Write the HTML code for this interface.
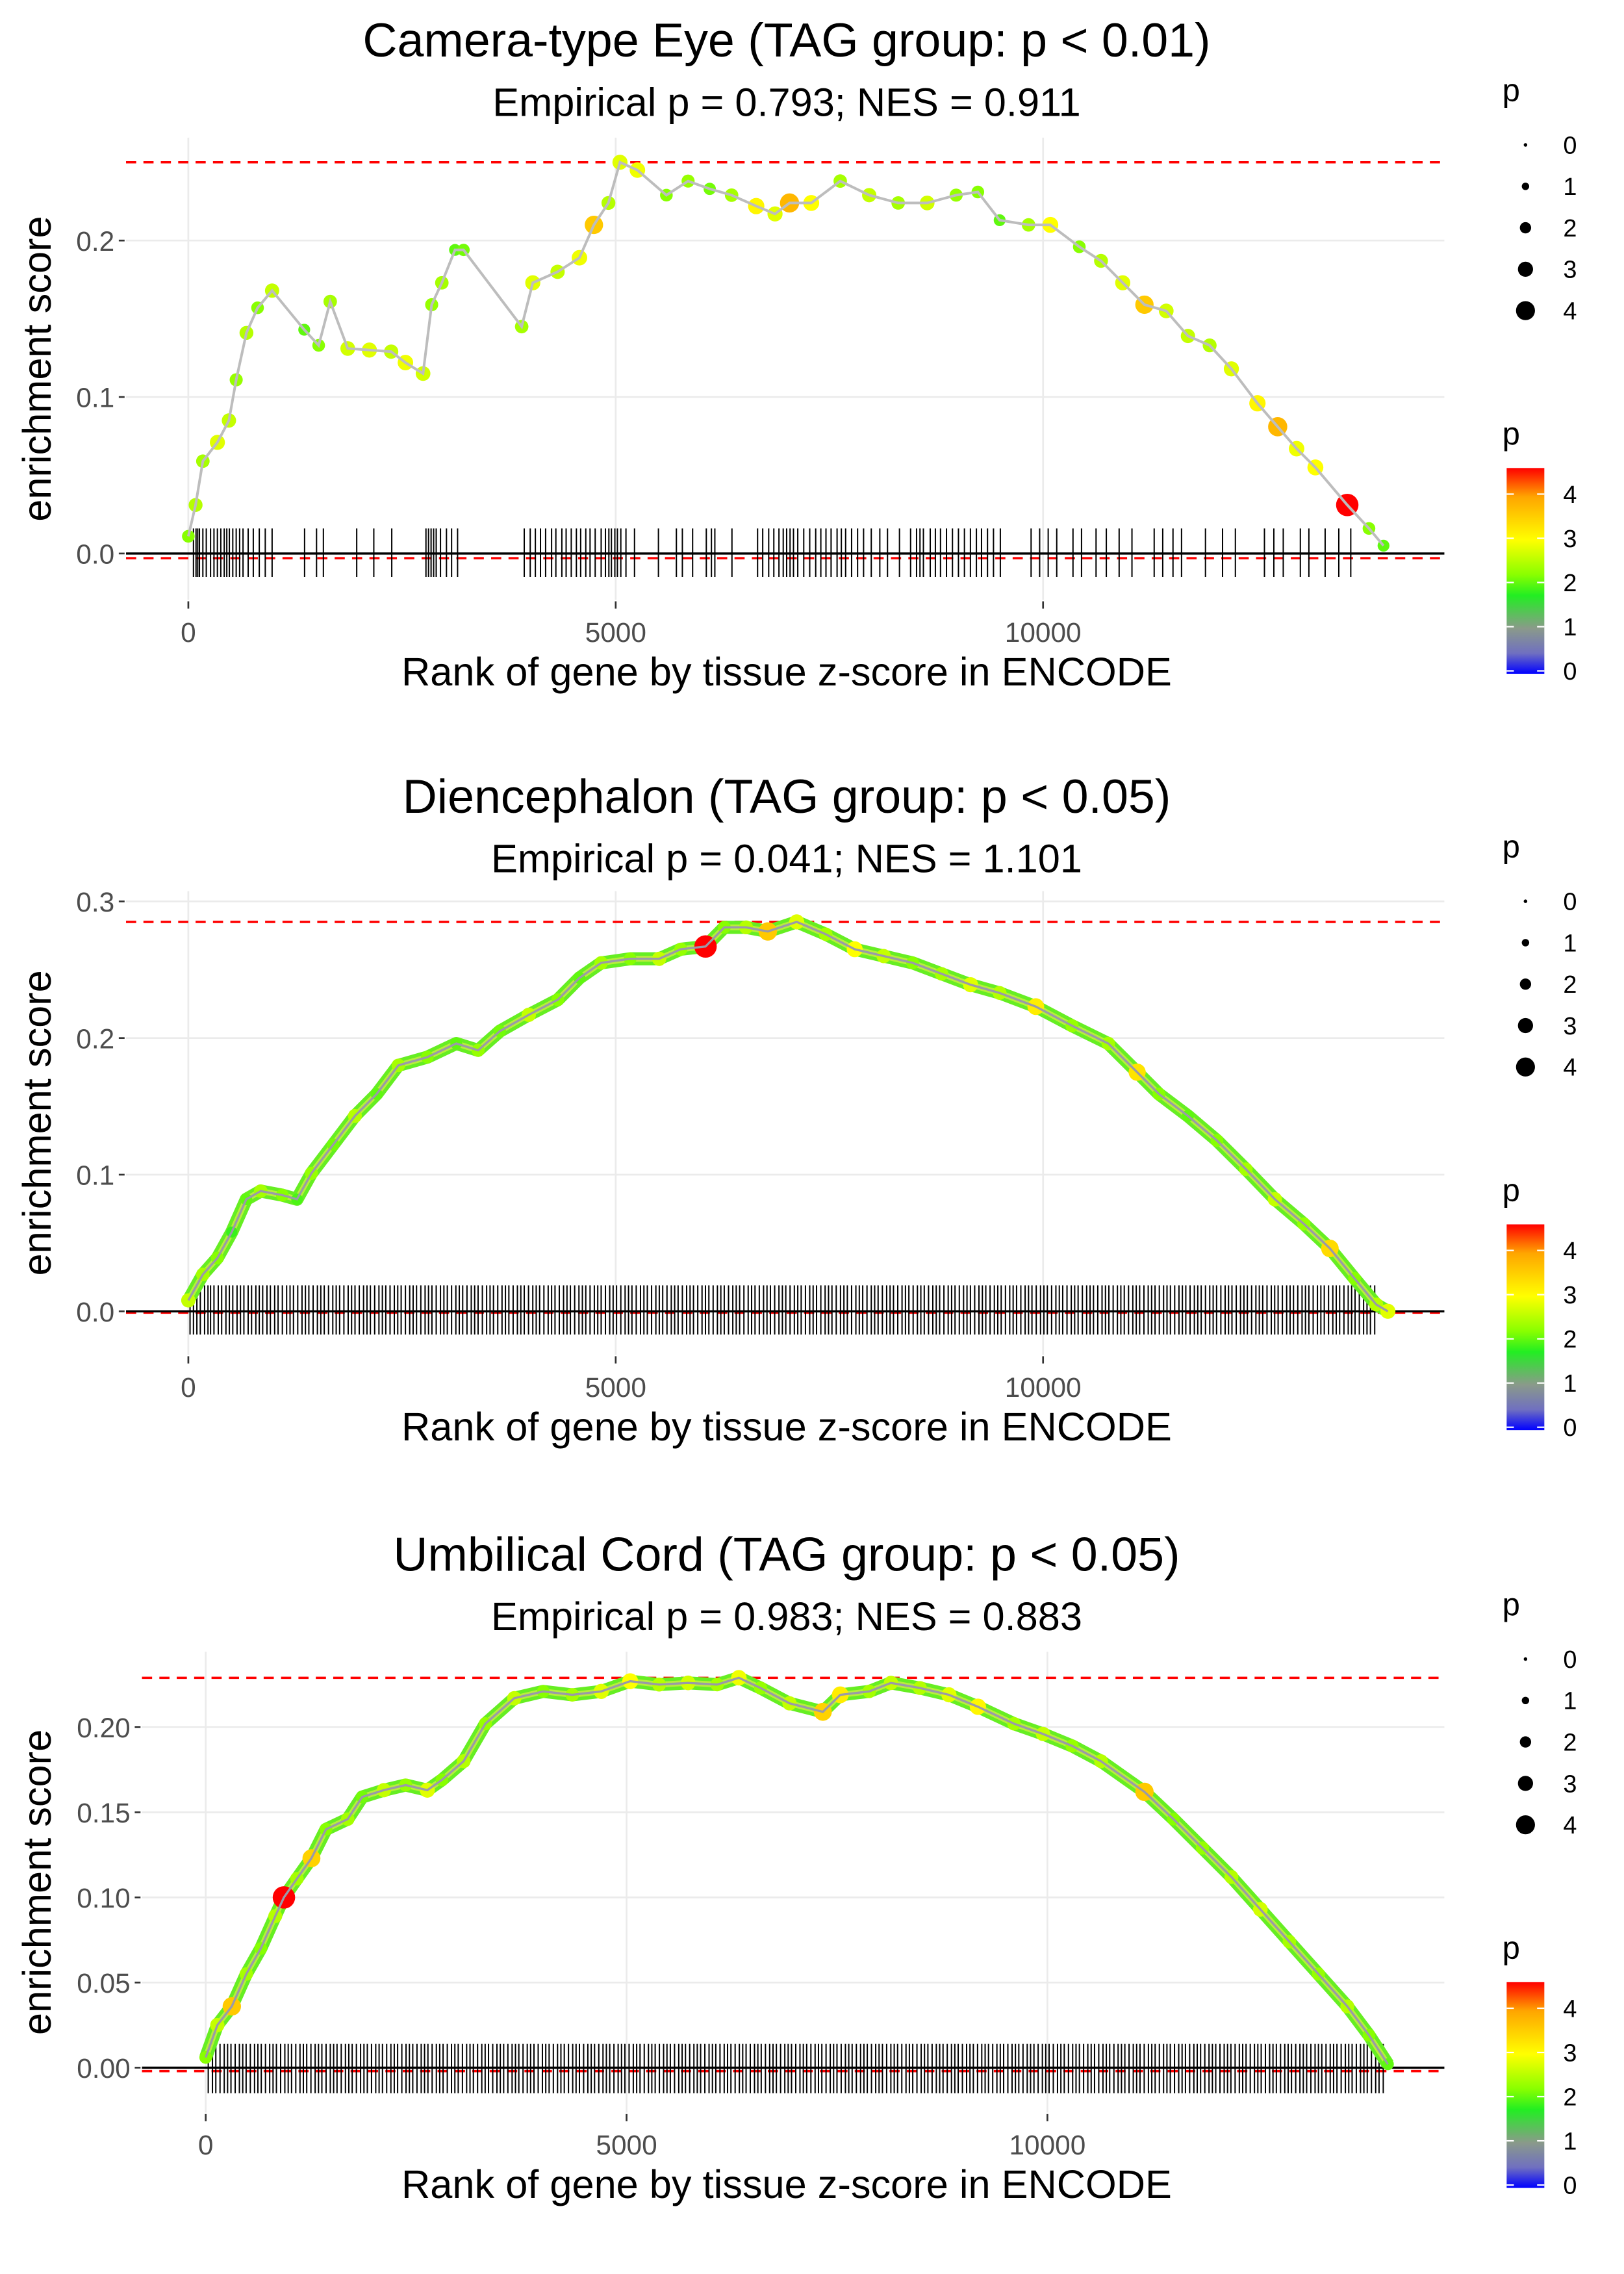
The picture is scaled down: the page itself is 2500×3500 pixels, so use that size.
<!DOCTYPE html>
<html><head><meta charset="utf-8"><style>
html,body{margin:0;padding:0;background:#fff;}
svg{display:block;font-family:"Liberation Sans",sans-serif;}
</style></head><body>
<svg id="chart" width="2500" height="3500" viewBox="0 0 1121 1569.4" preserveAspectRatio="none" xmlns="http://www.w3.org/2000/svg">
<defs>
<linearGradient id="pgrad" x1="0" y1="1" x2="0" y2="0">
<stop offset="0" stop-color="#0000ff"/><stop offset="0.1" stop-color="#7070c0"/><stop offset="0.22" stop-color="#8a9a8a"/><stop offset="0.38" stop-color="#22ee22"/><stop offset="0.48" stop-color="#88ff00"/><stop offset="0.65" stop-color="#ffff00"/><stop offset="0.86" stop-color="#ffa500"/><stop offset="1" stop-color="#ff0000"/>
</linearGradient>
</defs>
</svg>
<script>
// ---- Panel 1: Camera-type Eye ----
const p1Ranks=[0,85,170,340,475,560,680,810,980,1356,1525,1660,1865,2118,2373,2540,2746,2847,2966,3120,3220,3900,4030,4320,4576,4745,4915,5050,5254,5593,5847,6100,6356,6644,6864,7034,7288,7627,7966,8305,8644,8983,9237,9492,9830,10085,10424,10678,10932,11186,11441,11695,11949,12203,12508,12745,12966,13186,13559,13813,13983];
const p1ES=[0.011,0.031,0.059,0.071,0.085,0.111,0.141,0.157,0.168,0.143,0.133,0.161,0.131,0.130,0.129,0.122,0.115,0.159,0.173,0.194,0.194,0.145,0.173,0.180,0.189,0.210,0.224,0.250,0.245,0.229,0.238,0.233,0.229,0.222,0.217,0.224,0.224,0.238,0.229,0.224,0.224,0.229,0.231,0.213,0.210,0.210,0.196,0.187,0.173,0.159,0.155,0.139,0.133,0.118,0.096,0.081,0.067,0.055,0.031,0.016,0.005];
const p1P=[2.2,2.5,2.4,2.8,2.6,2.3,2.5,2.2,2.6,2.0,2.2,2.4,2.7,2.8,2.6,2.9,2.7,2.3,2.4,2.0,2.1,2.4,2.8,2.6,2.9,3.6,2.5,2.8,2.9,2.2,2.3,2.1,2.4,3.1,2.8,3.8,3.0,2.4,2.6,2.4,2.7,2.3,2.2,2.0,2.4,3.0,2.2,2.5,2.8,3.6,2.7,2.6,2.5,2.8,3.1,3.8,2.9,3.0,4.6,2.2,2.0];
const p1Rug=[60,90,110,130,170,210,260,300,340,380,420,450,480,520,560,600,640,700,760,830,900,980,1360,1500,1580,1970,2170,2380,2780,2810,2840,2870,2900,2950,3020,3080,3150,3930,4000,4060,4120,4180,4250,4300,4370,4420,4480,4540,4590,4650,4700,4760,4830,4880,4920,4950,4990,5020,5060,5120,5220,5500,5710,5780,5900,6060,6120,6160,6360,6660,6720,6790,6850,6910,6960,7000,7040,7080,7130,7200,7270,7340,7400,7460,7520,7590,7640,7690,7760,7830,7900,7990,8090,8180,8320,8450,8520,8560,8600,8680,8740,8800,8870,8940,9010,9080,9150,9220,9280,9350,9420,9500,9860,9960,10060,10160,10350,10450,10620,10740,10890,11040,11300,11400,11520,11620,11900,12100,12250,12590,12700,12810,13010,13110,13300,13460,13600];
const p1YTicks=[0,0.1,0.2];const p1YLabels=["0.0","0.1","0.2"];
// ---- Panel 2: Diencephalon ----
const p2Ranks=[0,170,340,508,678,847,1100,1271,1440,1695,1949,2203,2457,2796,3135,3390,3644,3983,4322,4576,4830,5169,5508,5762,6051,6271,6525,6780,7118,7457,7796,8135,8474,8813,9152,9491,9915,10339,10763,11101,11356,11695,12034,12373,12712,13051,13356,13644,13898,14034];
const p2ES=[0.008,0.027,0.039,0.058,0.082,0.088,0.085,0.082,0.101,0.122,0.143,0.159,0.180,0.186,0.196,0.191,0.205,0.217,0.228,0.244,0.255,0.258,0.258,0.265,0.267,0.281,0.281,0.278,0.285,0.276,0.265,0.260,0.255,0.247,0.239,0.233,0.223,0.209,0.196,0.175,0.159,0.143,0.125,0.104,0.082,0.064,0.046,0.024,0.005,0.000];
const p2P=[2.6,2.4,2.2,1.8,2.0,2.4,2.2,1.9,2.3,2.1,2.5,2.0,2.4,2.2,2.0,2.3,2.1,2.6,2.2,2.0,2.4,2.2,2.6,2.3,4.6,2.2,2.5,3.6,2.8,2.4,3.0,2.6,2.2,2.4,2.8,2.5,3.2,2.3,2.4,3.3,2.2,2.0,2.2,2.4,2.6,2.3,3.4,2.2,2.5,2.8];
const p2Rug=[20,60,100,140,190,230,260,300,350,390,440,480,520,570,610,650,700,740,790,830,870,920,960,1010,1050,1100,1150,1190,1230,1280,1330,1370,1410,1460,1510,1550,1590,1640,1690,1730,1770,1820,1870,1910,1950,2000,2050,2090,2130,2180,2230,2270,2310,2360,2410,2450,2490,2540,2590,2630,2670,2720,2770,2810,2850,2900,2950,2990,3030,3080,3130,3170,3210,3260,3310,3350,3390,3440,3490,3530,3570,3620,3670,3710,3750,3800,3850,3890,3930,3980,4030,4070,4110,4160,4210,4250,4290,4340,4390,4430,4470,4520,4570,4610,4650,4700,4750,4790,4830,4880,4930,4970,5010,5060,5110,5150,5190,5240,5290,5330,5370,5420,5470,5510,5550,5600,5650,5690,5730,5780,5830,5870,5910,5960,6010,6050,6090,6140,6190,6230,6270,6320,6370,6410,6450,6500,6550,6590,6630,6680,6730,6770,6810,6860,6910,6950,6990,7040,7090,7130,7170,7220,7270,7310,7350,7400,7450,7490,7530,7580,7630,7670,7710,7760,7810,7850,7890,7940,7990,8030,8070,8120,8170,8210,8250,8300,8350,8390,8430,8480,8530,8570,8610,8660,8710,8750,8790,8840,8890,8930,8970,9020,9070,9110,9150,9200,9250,9290,9330,9380,9430,9470,9510,9560,9610,9650,9690,9740,9790,9830,9870,9920,9970,10010,10050,10100,10150,10190,10230,10280,10330,10370,10410,10460,10510,10550,10590,10640,10690,10730,10770,10820,10870,10910,10950,11000,11050,11090,11130,11180,11230,11270,11310,11360,11410,11450,11490,11540,11590,11630,11670,11720,11770,11810,11850,11900,11950,11990,12030,12080,12130,12170,12210,12260,12310,12350,12390,12440,12490,12530,12570,12620,12670,12710,12750,12800,12850,12890,12930,12980,13030,13070,13110,13160,13210,13250,13290,13340,13390,13430,13470,13520,13570,13610,13650,13700,13750,13790,13830,13880];
const p2YTicks=[0,0.1,0.2,0.3];const p2YLabels=["0.0","0.1","0.2","0.3"];
// ---- Panel 3: Umbilical Cord ----
const p3Ranks=[0,138,310,482,654,826,929,1084,1256,1429,1687,1859,2117,2375,2633,2806,3064,3322,3666,4010,4355,4699,5043,5387,5731,6076,6334,6592,6936,7332,7539,7883,8141,8485,8830,9174,9604,9948,10293,10637,11153,11497,11842,12186,12530,12874,13219,13563,13821,14045];
const p3ES=[0.006,0.025,0.036,0.055,0.070,0.089,0.100,0.111,0.123,0.140,0.146,0.159,0.163,0.166,0.163,0.169,0.180,0.202,0.217,0.221,0.219,0.221,0.227,0.225,0.226,0.225,0.229,0.223,0.214,0.209,0.219,0.221,0.226,0.223,0.219,0.212,0.202,0.196,0.189,0.180,0.162,0.146,0.129,0.112,0.093,0.074,0.055,0.036,0.019,0.002];
const p3P=[2.2,2.6,3.6,2.4,2.2,2.5,4.6,2.4,3.5,2.2,2.4,2.1,2.6,2.3,2.8,2.2,2.5,2.3,2.6,2.2,2.4,2.8,3.0,2.5,2.7,2.4,2.9,2.3,2.6,3.5,3.2,2.4,2.6,2.5,2.8,3.1,2.4,2.6,2.3,2.5,3.6,2.2,2.3,2.5,2.7,2.4,2.3,2.5,2.2,2.0];
const p3Rug=[30,80,120,170,220,260,300,350,400,440,480,530,580,620,660,710,760,800,840,890,940,980,1020,1070,1120,1160,1200,1250,1300,1340,1380,1430,1480,1520,1560,1610,1660,1700,1740,1790,1840,1880,1920,1970,2020,2060,2100,2150,2200,2240,2280,2330,2380,2420,2460,2510,2560,2600,2640,2690,2740,2780,2820,2870,2920,2960,3000,3050,3100,3140,3180,3230,3280,3320,3360,3410,3460,3500,3540,3590,3640,3680,3720,3770,3820,3860,3900,3950,4000,4040,4080,4130,4180,4220,4260,4310,4360,4400,4440,4490,4540,4580,4620,4670,4720,4760,4800,4850,4900,4940,4980,5030,5080,5120,5160,5210,5260,5300,5340,5390,5440,5480,5520,5570,5620,5660,5700,5750,5800,5840,5880,5930,5980,6020,6060,6110,6160,6200,6240,6290,6340,6380,6420,6470,6520,6560,6600,6650,6700,6740,6780,6830,6880,6920,6960,7010,7060,7100,7140,7190,7240,7280,7320,7370,7420,7460,7500,7550,7600,7640,7680,7730,7780,7820,7860,7910,7960,8000,8040,8090,8140,8180,8220,8270,8320,8360,8400,8450,8500,8540,8580,8630,8680,8720,8760,8810,8860,8900,8940,8990,9040,9080,9120,9170,9220,9260,9300,9350,9400,9440,9480,9530,9580,9620,9660,9710,9760,9800,9840,9890,9940,9980,10020,10070,10120,10160,10200,10250,10300,10340,10380,10430,10480,10520,10560,10610,10660,10700,10740,10790,10840,10880,10920,10970,11020,11060,11100,11150,11200,11240,11280,11330,11380,11420,11460,11510,11560,11600,11640,11690,11740,11780,11820,11870,11920,11960,12000,12050,12100,12140,12180,12230,12280,12320,12360,12410,12460,12500,12540,12590,12640,12680,12720,12770,12820,12860,12900,12950,13000,13040,13080,13130,13180,13220,13260,13310,13360,13400,13440,13490,13540,13580,13620,13670,13720,13760,13800,13850,13900,13940,13990];
const p3YTicks=[0,0.05,0.1,0.15,0.2];const p3YLabels=["0.00","0.05","0.10","0.15","0.20"];
const xTicks=[0,5000,10000];const xLabels=["0","5000","10000"];
const sizeLegend=[0,1,2,3,4];
const colorLegend=[0,1,2,3,4];

const NS="http://www.w3.org/2000/svg";
const svg=document.getElementById('chart');
function mk(tag,attrs,parent,txt){const e=document.createElementNS(NS,tag);for(const k in attrs)e.setAttribute(k,attrs[k]);if(txt!==undefined)e.textContent=txt;(parent||svg).appendChild(e);return e;}
function lerp(a,b,t){return Math.round(a+(b-a)*t);}
const cStops=[[0,[0,0,255]],[0.5,[112,112,192]],[1,[138,154,138]],[1.7,[34,238,34]],[2.2,[136,255,0]],[3,[255,255,0]],[4,[255,165,0]],[4.6,[255,0,0]]];
function pColor(p){for(let i=1;i<cStops.length;i++){if(p<=cStops[i][0]){const a=cStops[i-1],b=cStops[i];const t=(p-a[0])/(b[0]-a[0]);return `rgb(${lerp(a[1][0],b[1][0],t)},${lerp(a[1][1],b[1][1],t)},${lerp(a[1][2],b[1][2],t)})`;}}return 'rgb(255,0,0)';}
function pRadius(p){return 1.3+p*1.4;}

function panel(cfg){
  const g=mk('g',{});
  
  
  const X=r=>cfg.x0+r*cfg.xs;
  const Y=v=>cfg.y0-v*cfg.ys;
  const L=cfg.left,R=997,T=cfg.top,B=cfg.bottom;
  cfg.yTicks.forEach((v,i)=>{
    const gl=mk('line',{x1:L,x2:R,y1:Y(v),y2:Y(v),stroke:'#ebebeb','stroke-width':1.2},g);
    
    mk('line',{x1:L-5,x2:L-1,y1:Y(v),y2:Y(v),stroke:'#333','stroke-width':1.2},g);
    const t=mk('text',{x:L-8,y:Y(v)+7,'text-anchor':'end','font-size':19,fill:'#4d4d4d'},g,cfg.yLabels[i]);
    
  });
  xTicks.forEach((v,i)=>{
    const gl=mk('line',{x1:X(v),x2:X(v),y1:T,y2:B,stroke:'#ebebeb','stroke-width':1.2},g);
    
    mk('line',{x1:X(v),x2:X(v),y1:B+1,y2:B+6,stroke:'#333','stroke-width':1.2},g);
    const t=mk('text',{x:X(v),y:B+29,'text-anchor':'middle','font-size':19,fill:'#4d4d4d'},g,xLabels[i]);
    
  });
  const maxES=Math.max(...cfg.es);
  const d1=mk('line',{x1:L,x2:R,y1:Y(maxES),y2:Y(maxES),stroke:'#ff0000','stroke-width':1.6,'stroke-dasharray':'7,5'},g);
  
  const d2=mk('line',{x1:L,x2:R,y1:Y(cfg.minLine),y2:Y(cfg.minLine),stroke:'#ff0000','stroke-width':1.6,'stroke-dasharray':'7,5'},g);
  
  const rg=mk('g',{stroke:'#000','stroke-width':0.9},g);
  
  cfg.rug.forEach(r=>{const l=mk('line',{x1:X(r),x2:X(r),y1:Y(cfg.rugTop),y2:Y(cfg.rugBot)},rg);
    });
  const zl=mk('line',{x1:L,x2:R,y1:Y(0),y2:Y(0),stroke:'#000','stroke-width':1.5},g);
  
  const pts=cfg.ranks.map((r,i)=>X(r)+','+Y(cfg.es[i])).join(' ');
  if(cfg.band){const b=mk('polyline',{points:pts,fill:'none',stroke:'#66ee22','stroke-width':9,'stroke-linejoin':'round'},g);
    
    const b2=mk('polyline',{points:pts,fill:'none',stroke:'#ccee44','stroke-width':4,'stroke-linejoin':'round','opacity':0.8},g);
    }
  cfg.ranks.forEach((r,i)=>{const c=mk('circle',{cx:X(r),cy:Y(cfg.es[i]),r:pRadius(cfg.p[i]),fill:pColor(cfg.p[i])},g);
    });
  const ln=mk('polyline',{points:pts,fill:'none',stroke:cfg.band?'#9a9aa8':'#bdbdbd','stroke-width':cfg.band?1.5:1.8},g);
  
  const t1=mk('text',{x:543,y:cfg.titleY,'text-anchor':'middle','font-size':33,fill:'#000'},g,cfg.title);
  
  const t2=mk('text',{x:543,y:cfg.titleY+41,'text-anchor':'middle','font-size':27.5,fill:'#000'},g,cfg.sub);
  
  const xt=mk('text',{x:543,y:B+59,'text-anchor':'middle','font-size':27.5,fill:'#000'},g,'Rank of gene by tissue z-score in ENCODE');
  
  const yc=(T+B)/2;
  const yt=mk('text',{x:35,y:yc,'text-anchor':'middle','font-size':27.5,fill:'#000',transform:`rotate(-90 35 ${yc})`},g,'enrichment score');
  
  const o=cfg.legOff;
  const lg=mk('g',{},g);
  mk('text',{x:1037,y:70+o,'font-size':22,fill:'#000'},lg,'p');
  sizeLegend.forEach((v,i)=>{const yy=100+o+i*28.6;
    const c=mk('circle',{cx:1053,cy:yy,r:pRadius(v)*0.95,fill:'#000'},lg);
    
    mk('text',{x:1079,y:yy+6,'font-size':17,fill:'#000'},lg,String(v));});
  const cg=mk('g',{},g);
  mk('text',{x:1037,y:307+o,'font-size':22,fill:'#000'},cg,'p');
  const bar=mk('rect',{x:1040,y:323+o,width:26,height:142,fill:'url(#pgrad)'},cg);
  
  colorLegend.forEach(v=>{const yy=463+o-v*30.5;
    mk('line',{x1:1040,x2:1045,y1:yy,y2:yy,stroke:'#fff','stroke-width':1},cg);
    mk('line',{x1:1061,x2:1066,y1:yy,y2:yy,stroke:'#fff','stroke-width':1},cg);
    mk('text',{x:1079,y:yy+6,'font-size':17,fill:'#000'},cg,String(v));});
}
panel({name:'panel-camera-type-eye',x0:130,xs:0.059,y0:382,ys:1080,left:87,top:95,bottom:414,yTicks:p1YTicks,yLabels:p1YLabels,
  ranks:p1Ranks,es:p1ES,p:p1P,rug:p1Rug,rugTop:0.016,rugBot:-0.015,minLine:-0.003,band:false,
  title:'Camera-type Eye (TAG group: p < 0.01)',sub:'Empirical p = 0.793; NES = 0.911',titleY:39,legOff:0});
panel({name:'panel-diencephalon',x0:130,xs:0.059,y0:905,ys:943,left:87,top:615,bottom:935,yTicks:p2YTicks,yLabels:p2YLabels,
  ranks:p2Ranks,es:p2ES,p:p2P,rug:p2Rug,rugTop:0.019,rugBot:-0.017,minLine:-0.001,band:true,
  title:'Diencephalon (TAG group: p < 0.05)',sub:'Empirical p = 0.041; NES = 1.101',titleY:561,legOff:522});
panel({name:'panel-umbilical-cord',x0:142,xs:0.0581,y0:1427,ys:1175,left:98,top:1140,bottom:1458,yTicks:p3YTicks,yLabels:p3YLabels,
  ranks:p3Ranks,es:p3ES,p:p3P,rug:p3Rug,rugTop:0.014,rugBot:-0.015,minLine:-0.002,band:true,
  title:'Umbilical Cord (TAG group: p < 0.05)',sub:'Empirical p = 0.983; NES = 0.883',titleY:1084,legOff:1045});
</script>
</body></html>
